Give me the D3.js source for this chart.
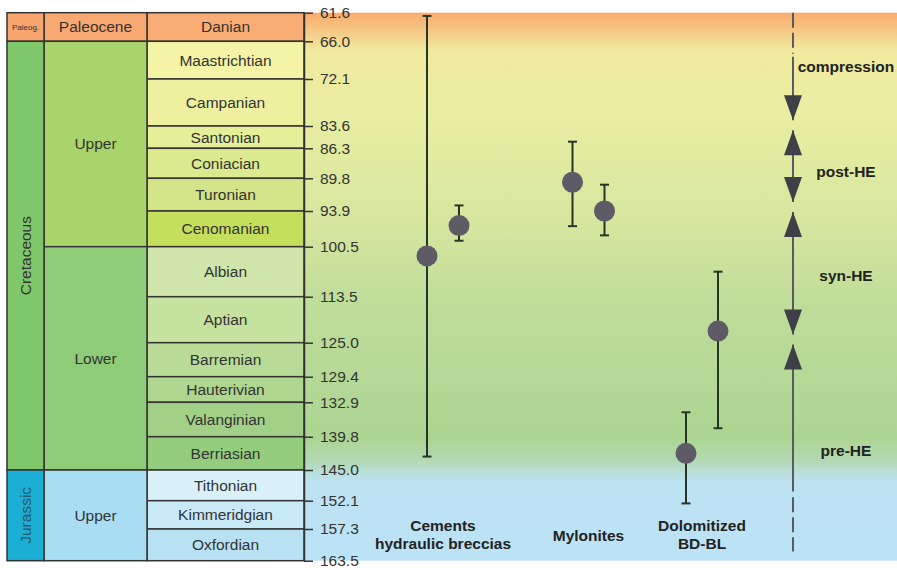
<!DOCTYPE html>
<html>
<head>
<meta charset="utf-8">
<script src="https://cdn.jsdelivr.net/npm/d3@7"></script>
<style>
body { margin: 0; background: #fff; }
text { font-family: "Liberation Sans", Arial, sans-serif; }
</style>
</head>
<body>
<script>
// time scale (Ma)
const stageNames = ["Danian", "Maastrichtian", "Campanian", "Santonian", "Coniacian", "Turonian",
    "Cenomanian", "Albian", "Aptian", "Barremian", "Hauterivian", "Valanginian", "Berriasian",
    "Tithonian", "Kimmeridgian", "Oxfordian"];
const stageBounds = [61.6, 66.0, 72.1, 83.6, 86.3, 89.8, 93.9, 100.5, 113.5, 125.0, 129.4, 132.9,
    139.8, 145.0, 152.1, 157.3, 163.5];
const stageColors = ["#f8ad74", "#f4f4a6", "#eef0a0", "#e5ee98", "#dbe98f", "#d2e487", "#c4df5c",
    "#d0e5a9", "#c7e19f", "#b9db97", "#aed68f", "#a1d187", "#94cc7e", "#d9f0f9", "#c8e9f6", "#b8e2f4"];

const epochNames = ["Paleocene", "Upper", "Lower", "Upper"];
const epochBounds = [61.6, 66.0, 100.5, 145.0, 163.5];
const epochColors = ["#f8a971", "#a9d46c", "#8fcc78", "#a8ddf3"];

const periodNames = ["Paleog.", "Cretaceous", "Jurassic"];
const periodBounds = [61.6, 66.0, 145.0, 163.5];
const periodColors = ["#f8a56e", "#7ec76b", "#1cafd6"];

// dated samples (Ma): central age and range
const groups = ["Cements\nhydraulic breccias", "Mylonites", "Dolomitized\nBD-BL"];
const sampleGroup = [0, 0, 1, 1, 2, 2];
const sampleSub = [0, 1, 0, 1, 0, 1];
const sampleAge = [102.9, 96.6, 90.3, 93.9, 142.4, 122.1];
const sampleMin = [62.1, 93.2, 85.5, 90.6, 134.9, 107.0];
const sampleMax = [142.9, 99.4, 96.7, 98.4, 152.6, 138.1];

// tectonic phases
const phaseNames = ["compression", "post-HE", "syn-HE", "pre-HE"];
const phaseFrom = [61.6, 83.4, 93.4, 124.2];
const phaseTo = [83.4, 93.4, 124.2, 163.5];
const phaseLabelAge = [70.1, 89.0, 107.9, 142.0];
const solidSpan = [68.5, 150.0];
const dashedSpans = [[61.6, 68.0], [151.3, 161.7]];

// layout (the column is schematic, not to scale)
const width = 897, height = 570;
const topY = 12.7;
const rowPx = [28.6, 37.7, 47, 22.3, 30, 32.7, 35.7, 50, 46, 34, 25.6, 34.4, 33.3, 30.7, 28.3, 31.7];
const colX = [7, 44, 147, 304];
const arrowX = 793;
const fs = "15.5px";

const svg = d3.select("body").append("svg")
    .attr("width", width)
    .attr("height", height);

const y = d3.scaleLinear()
    .domain(stageBounds)
    .range([topY, ...d3.cumsum(rowPx).map(v => topY + v)]);

const x = d3.scaleOrdinal()
    .domain(groups)
    .range([443, 588.5, 702]);
const xSub = d3.scalePoint()
    .domain([0, 1])
    .range([-16, 16]);

// background gradient
const bgStops = [[61.6, "#f9ab6b"], [63.5, "#f7bf7e"], [67.5, "#f0ea9e"], [80, "#e9eea2"],
    [95, "#d7e79f"], [115, "#c0dd9a"], [140, "#acd592"], [143.5, "#b2d9b2"], [147.5, "#bde2f2"],
    [163.5, "#bce2f7"]];
const y0 = y(stageBounds[0]), y1 = y(stageBounds[stageBounds.length - 1]);
const grad = svg.append("defs").append("linearGradient")
    .attr("id", "bg")
    .attr("gradientUnits", "userSpaceOnUse")
    .attr("x1", 0).attr("x2", 0)
    .attr("y1", y0).attr("y2", y1);
grad.selectAll("stop")
    .data(bgStops)
    .enter()
    .append("stop")
    .attr("offset", d => (y(d[0]) - y0) / (y1 - y0))
    .attr("stop-color", d => d[1]);

svg.append("rect")
    .attr("x", colX[3])
    .attr("y", y0)
    .attr("width", width - colX[3])
    .attr("height", y1 - y0)
    .attr("fill", "url(#bg)");

// stratigraphic columns
function column(names, bounds, colors, ci) {
    const g = svg.append("g");
    const cells = g.selectAll("g")
        .data(names)
        .enter()
        .append("g");
    cells.append("rect")
        .attr("x", colX[ci])
        .attr("y", (d, i) => y(bounds[i]))
        .attr("width", colX[ci + 1] - colX[ci])
        .attr("height", (d, i) => y(bounds[i + 1]) - y(bounds[i]))
        .attr("fill", (d, i) => colors[i])
        .attr("stroke", "#333")
        .attr("stroke-width", 1.5);
    return cells;
}

column(stageNames, stageBounds, stageColors, 2)
    .append("text")
    .attr("x", (colX[2] + colX[3]) / 2)
    .attr("y", (d, i) => (y(stageBounds[i]) + y(stageBounds[i + 1])) / 2)
    .attr("dy", "0.35em")
    .attr("text-anchor", "middle")
    .attr("font-size", fs)
    .attr("fill", "#333")
    .text(d => d);

column(epochNames, epochBounds, epochColors, 1)
    .append("text")
    .attr("x", (colX[1] + colX[2]) / 2)
    .attr("y", (d, i) => (y(epochBounds[i]) + y(epochBounds[i + 1])) / 2)
    .attr("dy", "0.35em")
    .attr("text-anchor", "middle")
    .attr("font-size", fs)
    .attr("fill", "#333")
    .text(d => d);

column(periodNames, periodBounds, periodColors, 0)
    .append("text")
    .attr("transform", (d, i) => {
        const cx = (colX[0] + colX[1]) / 2;
        const cy = (y(periodBounds[i]) + y(periodBounds[i + 1])) / 2;
        return i === 0 ? `translate(${cx},${cy})` : `translate(${cx},${cy}) rotate(-90)`;
    })
    .attr("dy", "0.35em")
    .attr("text-anchor", "middle")
    .attr("font-size", (d, i) => i === 0 ? "8px" : fs)
    .attr("fill", (d, i) => i === 2 ? "#24586a" : "#333")
    .text(d => d);

// age axis
const axis = svg.append("g")
    .attr("transform", `translate(${colX[3]},0)`)
    .call(d3.axisRight(y)
        .tickValues(stageBounds)
        .tickFormat(d3.format(".1f"))
        .tickSize(9)
        .tickSizeOuter(0)
        .tickPadding(7));
axis.select(".domain").attr("stroke", "#333").attr("stroke-width", 1.5);
axis.selectAll(".tick line").attr("stroke", "#333").attr("stroke-width", 1.5);
axis.selectAll(".tick text")
    .attr("fill", "#333")
    .attr("font-size", fs)
    .attr("font-family", "Liberation Sans, Arial, sans-serif");

// samples with error bars
const samples = sampleAge.map((a, i) => ({
    x: x(groups[sampleGroup[i]]) + xSub(sampleSub[i]),
    age: a, min: sampleMin[i], max: sampleMax[i]
}));

const bars = svg.append("g")
    .selectAll("g")
    .data(samples)
    .enter()
    .append("g")
    .attr("stroke", "#263626")
    .attr("stroke-width", 2);

bars.append("line")
    .attr("x1", d => d.x).attr("x2", d => d.x)
    .attr("y1", d => y(d.min)).attr("y2", d => y(d.max));
bars.append("line")
    .attr("x1", d => d.x - 4.5).attr("x2", d => d.x + 4.5)
    .attr("y1", d => y(d.min)).attr("y2", d => y(d.min));
bars.append("line")
    .attr("x1", d => d.x - 4.5).attr("x2", d => d.x + 4.5)
    .attr("y1", d => y(d.max)).attr("y2", d => y(d.max));
bars.append("circle")
    .attr("cx", d => d.x)
    .attr("cy", d => y(d.age))
    .attr("r", 10.5)
    .attr("stroke", "none")
    .attr("fill", "#5e5b67");

// group labels
svg.append("g")
    .selectAll("text")
    .data(groups)
    .enter()
    .append("text")
    .attr("x", d => x(d))
    .attr("y", d => d.includes("\n") ? 531 : 541)
    .attr("text-anchor", "middle")
    .attr("font-size", fs)
    .attr("font-weight", "bold")
    .attr("fill", "#222")
    .each(function(d) {
        d3.select(this).selectAll("tspan")
            .data(d.split("\n"))
            .enter()
            .append("tspan")
            .attr("x", x(d))
            .attr("dy", (t, i) => i ? 18 : 0)
            .text(t => t);
    });

// phase arrows
const gap = 5, headW = 9, headH = 25;
const ph = svg.append("g");

ph.selectAll("line.dash")
    .data(dashedSpans)
    .enter()
    .append("line")
    .attr("x1", arrowX).attr("x2", arrowX)
    .attr("y1", d => y(d[0])).attr("y2", d => y(d[1]))
    .attr("stroke", "#5a5a62")
    .attr("stroke-width", 2)
    .attr("stroke-dasharray", "15,5");

phaseNames.forEach((name, i) => {
    const upHead = i > 0;
    const downHead = i < phaseNames.length - 1;
    const a = upHead ? y(phaseFrom[i]) + gap : y(Math.max(phaseFrom[i], solidSpan[0]));
    const b = downHead ? y(phaseTo[i]) - gap : y(Math.min(phaseTo[i], solidSpan[1]));
    ph.append("line")
        .attr("x1", arrowX).attr("x2", arrowX)
        .attr("y1", a).attr("y2", b)
        .attr("stroke", "#5a5a62")
        .attr("stroke-width", 2);
    if (upHead) {
        ph.append("path")
            .attr("d", `M${arrowX},${a} L${arrowX + headW},${a + headH} L${arrowX - headW},${a + headH} Z`)
            .attr("fill", "#3f3f48");
    }
    if (downHead) {
        ph.append("path")
            .attr("d", `M${arrowX},${b} L${arrowX + headW},${b - headH} L${arrowX - headW},${b - headH} Z`)
            .attr("fill", "#3f3f48");
    }
    ph.append("text")
        .attr("x", arrowX + 53)
        .attr("y", y(phaseLabelAge[i]))
        .attr("dy", "0.35em")
        .attr("text-anchor", "middle")
        .attr("font-size", fs)
        .attr("font-weight", "bold")
        .attr("fill", "#222")
        .text(name);
});
</script>
</body>
</html>
